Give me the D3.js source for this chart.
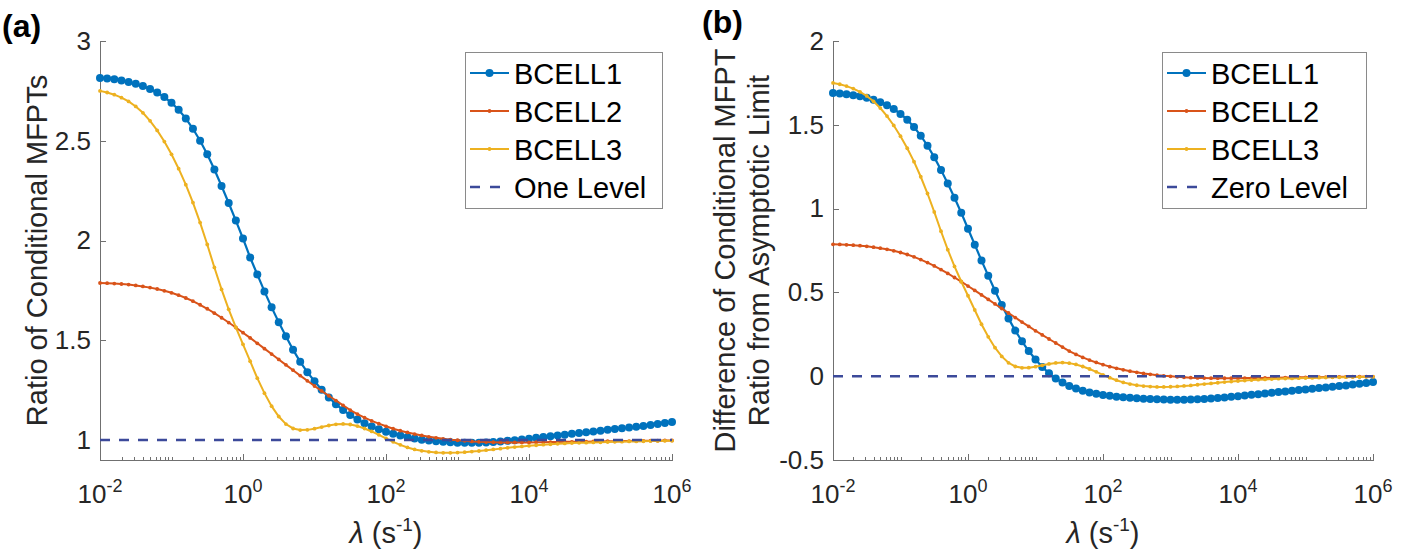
<!DOCTYPE html>
<html>
<head>
<meta charset="utf-8">
<script src="https://cdn.jsdelivr.net/npm/d3@7"></script>
<style>
  body { margin: 0; background: #fff; }
  svg text { font-family: "Liberation Sans", Arial, Helvetica, sans-serif; }
</style>
</head>
<body>
<div id="chart"></div>
<script>
// log10 of lambda (s^-1) where the curves were sampled
let logLambda = [
  -2.0, -1.9, -1.8, -1.7, -1.6, -1.5, -1.4, -1.3, -1.2, -1.1,
  -1.0, -0.9, -0.8, -0.7, -0.6, -0.5, -0.4, -0.3, -0.2, -0.1,
   0.0,  0.1,  0.2,  0.3,  0.4,  0.5,  0.6,  0.7,  0.8,  0.9,
   1.0,  1.1,  1.2,  1.3,  1.4,  1.5,  1.6,  1.7,  1.8,  1.9,
   2.0,  2.1,  2.2,  2.3,  2.4,  2.5,  2.6,  2.7,  2.8,  2.9,
   3.0,  3.1,  3.2,  3.3,  3.4,  3.5,  3.6,  3.7,  3.8,  3.9,
   4.0,  4.1,  4.2,  4.3,  4.4,  4.5,  4.6,  4.7,  4.8,  4.9,
   5.0,  5.1,  5.2,  5.3,  5.4,  5.5,  5.6,  5.7,  5.8,  5.9,
   6.0
]

// (a) ratio of conditional MFPTs
let ratioBcell1 = [
  2.815, 2.812, 2.808, 2.802, 2.795, 2.786, 2.774, 2.760, 2.742, 2.719,
  2.690, 2.655, 2.612, 2.560, 2.500, 2.432, 2.356, 2.273, 2.188, 2.100,
  2.010, 1.915, 1.830, 1.745, 1.665, 1.590, 1.520, 1.453, 1.392, 1.340,
  1.295, 1.252, 1.213, 1.180, 1.150, 1.125, 1.103, 1.084, 1.068, 1.054,
  1.042, 1.032, 1.023, 1.015, 1.008, 1.002, 0.998, 0.994, 0.991, 0.989,
  0.987, 0.986, 0.986, 0.987, 0.988, 0.990, 0.993, 0.996, 0.999, 1.003,
  1.007, 1.011, 1.015, 1.019, 1.023, 1.027, 1.031, 1.035, 1.039, 1.043,
  1.047, 1.051, 1.055, 1.059, 1.063, 1.067, 1.071, 1.075, 1.080, 1.085,
  1.090
]
let ratioBcell2 = [
  1.787, 1.786, 1.784, 1.782, 1.779, 1.775, 1.770, 1.764, 1.757, 1.748,
  1.738, 1.726, 1.712, 1.696, 1.678, 1.658, 1.636, 1.613, 1.589, 1.564,
  1.538, 1.512, 1.485, 1.458, 1.431, 1.404, 1.377, 1.350, 1.323, 1.297,
  1.271, 1.246, 1.222, 1.198, 1.174, 1.150, 1.130, 1.112, 1.096, 1.082,
  1.069, 1.057, 1.047, 1.038, 1.030, 1.023, 1.016, 1.011, 1.006, 1.002,
  0.999, 0.996, 0.993, 0.991, 0.990, 0.989, 0.988, 0.988, 0.988, 0.988,
  0.988, 0.989, 0.989, 0.990, 0.990, 0.991, 0.991, 0.992, 0.992, 0.993,
  0.993, 0.994, 0.994, 0.995, 0.995, 0.996, 0.996, 0.997, 0.997, 0.998,
  0.998
]
let ratioBcell3 = [
  2.750, 2.742, 2.731, 2.716, 2.697, 2.672, 2.640, 2.600, 2.552, 2.496,
  2.432, 2.360, 2.280, 2.190, 2.090, 1.980, 1.865, 1.755, 1.655, 1.565,
  1.480, 1.395, 1.310, 1.235, 1.170, 1.118, 1.080, 1.058, 1.050, 1.051,
  1.057, 1.065, 1.073, 1.079, 1.081, 1.078, 1.070, 1.058, 1.043, 1.026,
  1.008, 0.991, 0.976, 0.963, 0.953, 0.946, 0.941, 0.938, 0.936, 0.936,
  0.937, 0.939, 0.942, 0.945, 0.949, 0.953, 0.957, 0.961, 0.965, 0.968,
  0.971, 0.974, 0.977, 0.979, 0.981, 0.983, 0.985, 0.986, 0.987, 0.988,
  0.989, 0.990, 0.991, 0.992, 0.993, 0.993, 0.994, 0.995, 0.995, 0.996,
  0.996
]

// (b) difference of the ratio from its asymptotic limit
let diffBcell1 = [
  1.690, 1.687, 1.683, 1.677, 1.670, 1.661, 1.649, 1.635, 1.617, 1.594,
  1.565, 1.530, 1.487, 1.435, 1.375, 1.307, 1.231, 1.150, 1.065, 0.975,
  0.880, 0.785, 0.690, 0.600, 0.510, 0.425, 0.345, 0.272, 0.208, 0.150,
  0.100, 0.055, 0.018, -0.013, -0.038, -0.058, -0.074, -0.087, -0.097, -0.105,
  -0.112, -0.117, -0.122, -0.126, -0.129, -0.132, -0.134, -0.136, -0.138, -0.139,
  -0.140, -0.140, -0.140, -0.139, -0.138, -0.136, -0.133, -0.130, -0.127, -0.123,
  -0.119, -0.115, -0.111, -0.107, -0.103, -0.099, -0.095, -0.091, -0.087, -0.083,
  -0.079, -0.075, -0.071, -0.067, -0.063, -0.059, -0.055, -0.050, -0.045, -0.040,
  -0.035
]
let diffBcell2 = [
  0.787, 0.786, 0.784, 0.782, 0.779, 0.775, 0.770, 0.764, 0.757, 0.748,
  0.738, 0.726, 0.712, 0.696, 0.678, 0.658, 0.636, 0.613, 0.589, 0.564,
  0.538, 0.512, 0.485, 0.458, 0.431, 0.404, 0.377, 0.350, 0.323, 0.297,
  0.271, 0.246, 0.222, 0.198, 0.174, 0.150, 0.130, 0.112, 0.096, 0.082,
  0.069, 0.057, 0.047, 0.038, 0.030, 0.023, 0.016, 0.011, 0.006, 0.002,
  -0.001, -0.004, -0.007, -0.009, -0.010, -0.011, -0.012, -0.012, -0.012, -0.012,
  -0.012, -0.011, -0.011, -0.010, -0.010, -0.009, -0.009, -0.008, -0.008, -0.007,
  -0.007, -0.006, -0.006, -0.005, -0.005, -0.004, -0.004, -0.003, -0.003, -0.002,
  -0.002
]
let diffBcell3 = [
  1.750, 1.742, 1.731, 1.716, 1.697, 1.672, 1.640, 1.600, 1.552, 1.496,
  1.432, 1.360, 1.280, 1.190, 1.090, 0.980, 0.865, 0.755, 0.655, 0.565,
  0.480, 0.395, 0.310, 0.235, 0.170, 0.118, 0.080, 0.058, 0.050, 0.051,
  0.057, 0.065, 0.073, 0.079, 0.081, 0.078, 0.070, 0.058, 0.043, 0.026,
  0.008, -0.009, -0.024, -0.037, -0.047, -0.054, -0.059, -0.062, -0.064, -0.064,
  -0.063, -0.061, -0.058, -0.055, -0.051, -0.047, -0.043, -0.039, -0.035, -0.032,
  -0.029, -0.026, -0.023, -0.021, -0.019, -0.017, -0.015, -0.014, -0.013, -0.012,
  -0.011, -0.010, -0.009, -0.008, -0.007, -0.007, -0.006, -0.005, -0.005, -0.004,
  -0.004
]

let seriesNames = ["BCELL1", "BCELL2", "BCELL3"]
let xTickValues = [1e-2, 1e0, 1e2, 1e4, 1e6]
let xTickExponents = ["-2", "0", "2", "4", "6"]
let yTicksA = [1, 1.5, 2, 2.5, 3]
let yTicksB = [-0.5, 0, 0.5, 1, 1.5, 2]

let colors = ["#0072BD", "#D95319", "#EDB120"]
let dotSize = [4, 1.9, 1.9]
let lineWidth = [2.2, 2, 2]
let refColor = "#3c4a9a"

const width = 1411
const height = 554

const svg = d3.select("#chart")
              .append("svg")
              .attr("width", width)
              .attr("height", height)

/**
 * Draw one panel of the figure
 */
function makePanel(opt) {
    let x = d3.scaleLog().domain([1e-2, 1e6]).range([opt.left, opt.right])
    let y = d3.scaleLinear().domain(opt.yDomain).range([opt.bottom, opt.top])

    const g = svg.append("g")

    // minor x ticks (inward)
    let minor = []
    for (let e = -2; e < 6; e++) {
        for (let k = 1; k < 10; k++) {
            let v = k * Math.pow(10, e)
            if (!xTickValues.includes(v)) minor.push(v)
        }
    }
    g.append("g")
     .attr("class", "axis")
     .attr("transform", `translate(0,${opt.bottom})`)
     .call(d3.axisBottom(x).tickValues(minor).tickSizeInner(-3.5).tickSizeOuter(0).tickFormat(""))
     .call(a => a.select(".domain").remove())

    // major x ticks + axis line
    let xAxis = g.append("g")
     .attr("class", "axis")
     .attr("transform", `translate(0,${opt.bottom})`)
     .call(d3.axisBottom(x).tickValues(xTickValues).tickSizeInner(-6).tickSizeOuter(0).tickFormat(""))

    // x tick labels as 10^n
    let lbl = xAxis.selectAll(".xlbl")
        .data(xTickValues)
        .enter()
        .append("text")
        .attr("class", "xlbl")
        .attr("x", d => x(d))
        .attr("y", 43)
        .attr("text-anchor", "middle")
        .attr("fill", "#262626")
        .style("font-size", "26px")
    lbl.append("tspan").text("10")
    lbl.append("tspan")
       .attr("dy", -11)
       .style("font-size", "18px")
       .text((d, i) => xTickExponents[i])

    // y axis
    g.append("g")
     .attr("class", "axis")
     .attr("transform", `translate(${opt.left},0)`)
     .call(d3.axisLeft(y).tickValues(opt.yTicks).tickSizeInner(-6).tickSizeOuter(0).tickPadding(9)
             .tickFormat(d => String(d)))
     .selectAll("text")
     .attr("fill", "#262626")
     .style("font-size", "26px")

    g.selectAll(".axis path, .axis line")
     .attr("stroke", "#707070")
     .attr("stroke-width", 1)
     .attr("shape-rendering", "crispEdges")

    // curves
    let line = d3.line()
                 .x(d => x(Math.pow(10, d[0])))
                 .y(d => y(d[1]))
    opt.series.forEach((vals, s) => {
        let pts = logLambda.map((l, i) => [l, vals[i]])
        g.append("path")
         .datum(pts)
         .attr("d", line)
         .attr("fill", "none")
         .attr("stroke", colors[s])
         .attr("stroke-width", lineWidth[s])
        g.append("g")
         .selectAll("circle")
         .data(pts)
         .enter()
         .append("circle")
         .attr("cx", d => x(Math.pow(10, d[0])))
         .attr("cy", d => y(d[1]))
         .attr("r", dotSize[s])
         .attr("fill", colors[s])
    })

    // reference level (dashed)
    g.append("line")
     .attr("x1", x(1e-2))
     .attr("x2", x(1e6))
     .attr("y1", y(opt.refValue))
     .attr("y2", y(opt.refValue))
     .attr("stroke", refColor)
     .attr("stroke-width", 2.5)
     .attr("stroke-dasharray", "10,9")

    // tag
    svg.append("text")
       .attr("x", opt.tagX)
       .attr("y", opt.tagY)
       .style("font-size", "32px")
       .style("font-weight", "bold")
       .text(opt.tag)

    // y label
    let yl = svg.append("text")
       .attr("transform", `translate(${opt.ylabelX},${(opt.top + opt.bottom) / 2}) rotate(-90)`)
       .attr("text-anchor", "middle")
       .attr("fill", "#262626")
       .style("font-size", "29px")
    opt.ylabel.forEach((t, i) => {
        yl.append("tspan")
          .attr("x", 0)
          .attr("y", i * 34)
          .text(t)
    })

    // x label
    let xl = svg.append("text")
       .attr("x", (opt.left + opt.right) / 2)
       .attr("y", 543)
       .attr("text-anchor", "middle")
       .attr("fill", "#262626")
       .style("font-size", "29px")
    xl.append("tspan").style("font-style", "italic").text("λ")
    xl.append("tspan").text(" (s")
    xl.append("tspan").attr("dy", -12).style("font-size", "19px").text("-1")
    xl.append("tspan").attr("dy", 12).text(")")

    // legend
    let legend = svg.append("g")
                    .attr("transform", `translate(${opt.legX},52)`)
    legend.append("rect")
          .attr("width", opt.legW)
          .attr("height", 156)
          .attr("fill", "#fff")
          .attr("stroke", "#8a8a8a")
          .attr("stroke-width", 1)
          .attr("shape-rendering", "crispEdges")
    let rows = seriesNames.concat([opt.refLabel])
    rows.forEach((name, i) => {
        let cy = 21 + i * 38
        if (i < 3) {
            legend.append("line")
                  .attr("x1", 5).attr("x2", 44)
                  .attr("y1", cy).attr("y2", cy)
                  .attr("stroke", colors[i])
                  .attr("stroke-width", lineWidth[i])
            legend.append("circle")
                  .attr("cx", 24.5).attr("cy", cy)
                  .attr("r", dotSize[i])
                  .attr("fill", colors[i])
        } else {
            legend.append("line")
                  .attr("x1", 5).attr("x2", 45)
                  .attr("y1", cy).attr("y2", cy)
                  .attr("stroke", refColor)
                  .attr("stroke-width", 2.5)
                  .attr("stroke-dasharray", "10,10")
        }
        legend.append("text")
              .attr("x", 49)
              .attr("y", cy + 10.5)
              .style("font-size", "29px")
              .attr("fill", "#000")
              .text(name)
    })
}

makePanel({
    left: 100, right: 672, top: 41, bottom: 460,
    yDomain: [0.9, 3], yTicks: yTicksA,
    series: [ratioBcell1, ratioBcell2, ratioBcell3],
    refValue: 1, refLabel: "One Level",
    tag: "(a)", tagX: 2, tagY: 37,
    ylabel: ["Ratio of Conditional MFPTs"], ylabelX: 47,
    legX: 465, legW: 197
})

makePanel({
    left: 833, right: 1373, top: 41, bottom: 460,
    yDomain: [-0.5, 2], yTicks: yTicksB,
    series: [diffBcell1, diffBcell2, diffBcell3],
    refValue: 0, refLabel: "Zero Level",
    tag: "(b)", tagX: 702, tagY: 33,
    ylabel: ["Difference of Conditional MFPT", "Ratio from Asymptotic Limit"], ylabelX: 735,
    legX: 1162, legW: 204
})
</script>
</body>
</html>
